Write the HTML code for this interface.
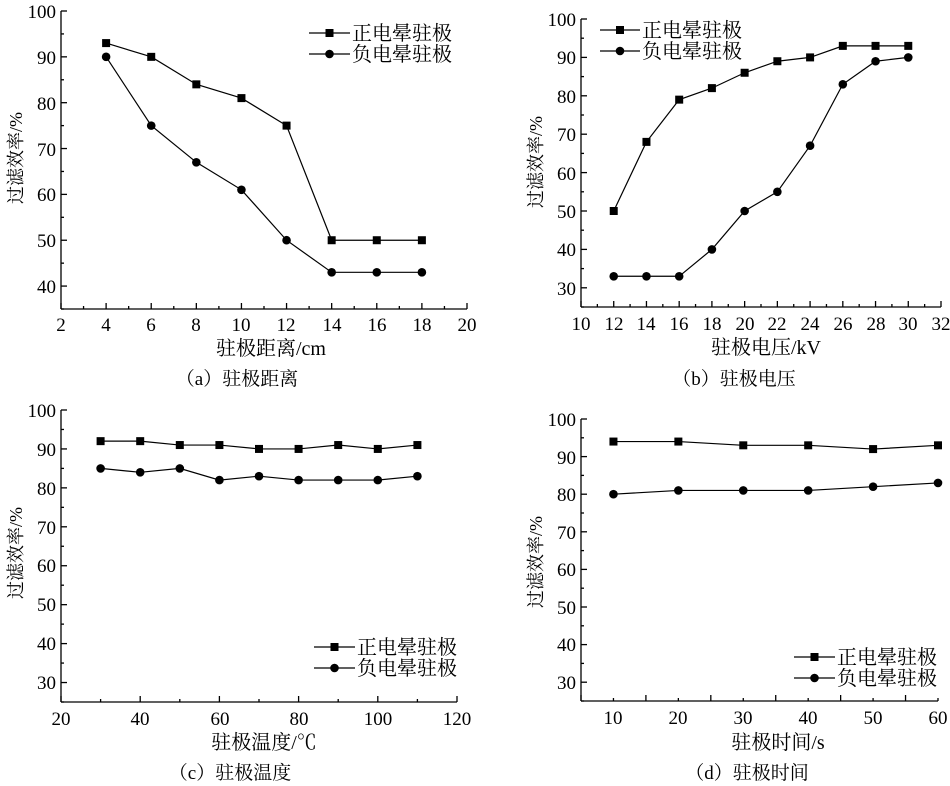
<!DOCTYPE html>
<html><head><meta charset="utf-8"><style>
body{margin:0;background:#fff}
svg text{font-family:"Liberation Serif","Noto Serif CJK SC",serif;fill:#000}
.t{font-size:19px}
.l{font-size:20px}
.c{font-size:19px}
.y{font-size:18px}
</style></head><body>
<svg id="s" width="950" height="781" xmlns="http://www.w3.org/2000/svg">
<g class="t" text-anchor="middle">
<text x="61" y="331">2</text><text x="106" y="331">4</text><text x="151" y="331">6</text><text x="196" y="331">8</text><text x="241" y="331">10</text><text x="286" y="331">12</text><text x="332" y="331">14</text><text x="377" y="331">16</text><text x="422" y="331">18</text><text x="467" y="331">20</text>
<text x="581" y="330">10</text><text x="614" y="330">12</text><text x="646" y="330">14</text><text x="679" y="330">16</text><text x="712" y="330">18</text><text x="745" y="330">20</text><text x="777" y="330">22</text><text x="810" y="330">24</text><text x="843" y="330">26</text><text x="876" y="330">28</text><text x="908" y="330">30</text><text x="941" y="330">32</text>
<text x="61" y="725">20</text><text x="140" y="725">40</text><text x="220" y="725">60</text><text x="299" y="725">80</text><text x="378" y="725">100</text><text x="457" y="725">120</text>
<text x="613" y="724">10</text><text x="678" y="724">20</text><text x="743" y="724">30</text><text x="808" y="724">40</text><text x="873" y="724">50</text><text x="938" y="724">60</text>
</g>
<g class="t" text-anchor="end">
<text x="56" y="18">100</text><text x="56" y="64">90</text><text x="56" y="110">80</text><text x="56" y="156">70</text><text x="56" y="201">60</text><text x="56" y="247">50</text><text x="56" y="293">40</text>
<text x="576" y="26">100</text><text x="576" y="64">90</text><text x="576" y="103">80</text><text x="576" y="141">70</text><text x="576" y="180">60</text><text x="576" y="218">50</text><text x="576" y="256">40</text><text x="576" y="295">30</text>
<text x="56" y="417">100</text><text x="56" y="456">90</text><text x="56" y="495">80</text><text x="56" y="534">70</text><text x="56" y="572">60</text><text x="56" y="611">50</text><text x="56" y="650">40</text><text x="56" y="689">30</text>
<text x="576" y="426">100</text><text x="576" y="464">90</text><text x="576" y="501">80</text><text x="576" y="539">70</text><text x="576" y="576">60</text><text x="576" y="614">50</text><text x="576" y="651">40</text><text x="576" y="689">30</text>
</g>
<g class="l" text-anchor="middle">
<text x="271" y="355">驻极距离/cm</text>
<text x="766" y="354">驻极电压/kV</text>
<text x="264" y="749">驻极温度/℃</text>
<text x="778" y="749">驻极时间/s</text>
</g>
<g class="c" text-anchor="middle">
<text x="237" y="385">（a）驻极距离</text>
<text x="734" y="385">（b）驻极电压</text>
<text x="230" y="779">（c）驻极温度</text>
<text x="747" y="779">（d）驻极时间</text>
</g>
<g class="y" text-anchor="middle">
<text transform="translate(22,158) rotate(-90)">过滤效率/%</text>
<text transform="translate(542,162) rotate(-90)">过滤效率/%</text>
<text transform="translate(22,553) rotate(-90)">过滤效率/%</text>
<text transform="translate(542,562) rotate(-90)">过滤效率/%</text>
</g>
<g class="l">
<text x="352" y="40">正电晕驻极</text><text x="352" y="61">负电晕驻极</text>
<text x="642" y="37">正电晕驻极</text><text x="642" y="58">负电晕驻极</text>
<text x="357" y="654">正电晕驻极</text><text x="357" y="675">负电晕驻极</text>
<text x="837" y="664">正电晕驻极</text><text x="837" y="685">负电晕驻极</text>
</g>
</svg>
<script>
var s=document.getElementById('s'),NS='http://www.w3.org/2000/svg';
function el(n,a){var e=document.createElementNS(NS,n);for(var k in a)e.setAttribute(k,a[k]);s.appendChild(e);return e;}
function line(x1,y1,x2,y2){el('line',{x1:x1,y1:y1,x2:x2,y2:y2,stroke:'#000','stroke-width':1.3});}
function panel(p){
 var X=function(v){return p.x0+(v-p.xmin)*(p.x1-p.x0)/(p.xmax-p.xmin)};
 var Y=function(v){return p.yb+(v-p.ymin)*(p.yt-p.yb)/(p.ymax-p.ymin)};
 line(p.x0,p.yb,p.x1,p.yb);line(p.x0,p.yb,p.x0,Y(p.ymax));
 for(var v=p.xmin;v<=p.xmax+1e-9;v+=p.xs/2){var maj=Math.abs(((v-p.xmin)/p.xs)-Math.round((v-p.xmin)/p.xs))<1e-6;line(X(v),p.yb,X(v),p.yb-(maj?6:3));}
 for(var v=p.yTick0;v<=p.ymax+1e-9;v+=5){var maj=v%10==0;line(p.x0,Y(v),p.x0+(maj?6:3),Y(v));}
 [p.a,p.b].forEach(function(d,i){
  var pts=d.map(function(q){return X(q[0])+','+Y(q[1])}).join(' ');
  el('polyline',{points:pts,fill:'none',stroke:'#000','stroke-width':1.2});
  d.forEach(function(q){if(i==0)el('rect',{x:X(q[0])-4,y:Y(q[1])-4,width:8,height:8,fill:'#000'});else el('circle',{cx:X(q[0]),cy:Y(q[1]),r:4.3,fill:'#000'});});
 });
 var L=p.leg;
 line(L[0],L[1],L[2],L[1]);el('rect',{x:(L[0]+L[2])/2-4,y:L[1]-4,width:8,height:8,fill:'#000'});
 line(L[0],L[1]+21,L[2],L[1]+21);el('circle',{cx:(L[0]+L[2])/2,cy:L[1]+21,r:4.3,fill:'#000'});
}
function z(xs,ys){return xs.map(function(x,i){return [x,ys[i]]})}
panel({x0:61,x1:467,xmin:2,xmax:20,xs:2,yb:309,yt:11,ymin:35,ymax:100,yTick0:35,
 a:z([4,6,8,10,12,14,16,18],[93,90,84,81,75,50,50,50]),b:z([4,6,8,10,12,14,16,18],[90,75,67,61,50,43,43,43]),leg:[309,33,350]});
panel({x0:581,x1:941,xmin:10,xmax:32,xs:2,yb:307,yt:19,ymin:25,ymax:100,yTick0:25,
 a:z([12,14,16,18,20,22,24,26,28,30],[50,68,79,82,86,89,90,93,93,93]),b:z([12,14,16,18,20,22,24,26,28,30],[33,33,33,40,50,55,67,83,89,90]),leg:[600,30,640]});
panel({x0:61,x1:457,xmin:20,xmax:120,xs:20,yb:702,yt:410,ymin:25,ymax:100,yTick0:25,
 a:z([30,40,50,60,70,80,90,100,110],[92,92,91,91,90,90,91,90,91]),b:z([30,40,50,60,70,80,90,100,110],[85,84,85,82,83,82,82,82,83]),leg:[314,647,355]});
panel({x0:581,x1:938,xmin:5,xmax:60,xs:10,yb:701,yt:419,ymin:25,ymax:100,yTick0:25,
 a:z([10,20,30,40,50,60],[94,94,93,93,92,93]),b:z([10,20,30,40,50,60],[80,81,81,81,82,83]),leg:[794,657,835]});
</script>
</body></html>
